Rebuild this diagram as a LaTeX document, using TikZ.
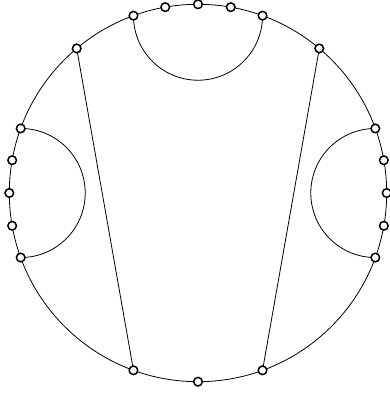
\documentclass[tikz,border=0pt]{standalone}
\usetikzlibrary{calc,backgrounds}
\begin{document}
\begin{tikzpicture}[x=1pt,y=1pt,
  vtx/.style={circle,draw=black,fill=white,line width=1.5pt,minimum size=8.6pt,inner sep=0pt},
  edge/.style={line width=0.8pt,black}]
\useasboundingbox (0,0) rectangle (390,394);
\def\R{188.7}
\coordinate (O) at (198,201);
\foreach \a in {70,80,90,100,110,130,160,170,180,190,200,250,270,290,-20,-10,0,10,20,50}{
  \node[vtx] (p\a) at ($(O)+(\a:\R)$) {};
}
\begin{scope}[on background layer]
  \draw[edge] (O) circle[radius=\R];
  \draw[edge] (p110.center) arc[start angle=180,end angle=360,radius={\R*cos(70)}];
  \draw[edge] (p160.center) arc[start angle=90,end angle=-90,radius={\R*sin(20)}];
  \draw[edge] (p20.center) arc[start angle=90,end angle=270,radius={\R*sin(20)}];
  \draw[edge] (p130.center) -- (p250.center);
  \draw[edge] (p50.center) -- (p290.center);
\end{scope}
\end{tikzpicture}
\end{document}
